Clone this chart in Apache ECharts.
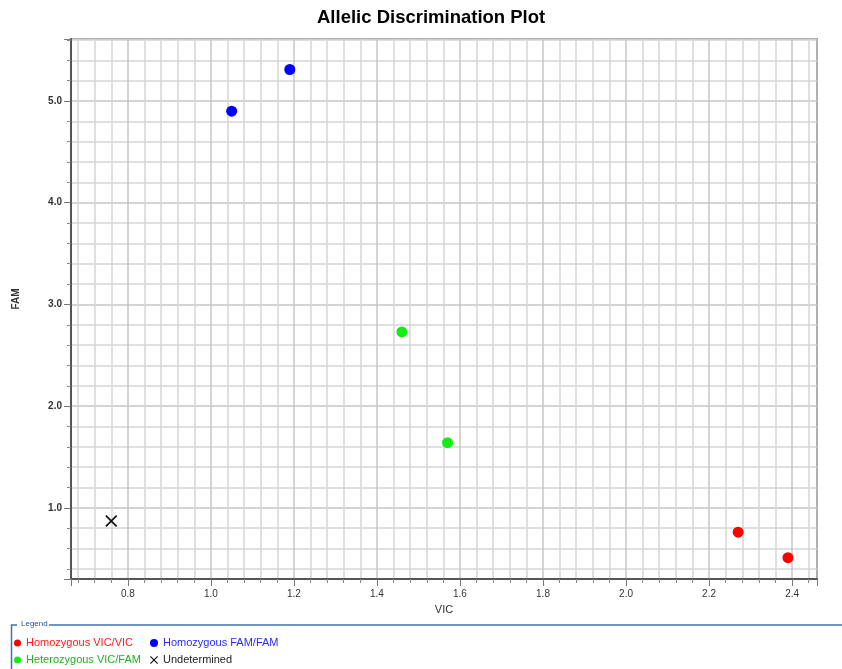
<!DOCTYPE html>
<html>
<head>
<meta charset="utf-8">
<script src="https://cdn.jsdelivr.net/npm/echarts@6/dist/echarts.min.js"></script>
<style>
html,body{margin:0;padding:0;background:#fff;}
#chart{width:842px;height:669px;}
</style>
</head>
<body>
<div id="chart"></div>
<script>
// Data (VIC, FAM)
const seriesNames = ['Homozygous VIC/VIC', 'Homozygous FAM/FAM', 'Heterozygous VIC/FAM', 'Undetermined'];
const homoVIC = [[2.27, 0.76], [2.39, 0.51]];
const homoFAM = [[1.05, 4.90], [1.19, 5.31]];
const hetero = [[1.46, 2.73], [1.57, 1.64]];
const undetermined = [[0.76, 0.87]];
const xRange = [0.663, 2.46];
const yRange = [0.3, 5.61];

const xPath = 'path://M0,1 L1,0 L5,4 L9,0 L10,1 L6,5 L10,9 L9,10 L5,6 L1,10 L0,9 L4,5 Z';
const FONT = 'Liberation Sans, Arial, sans-serif';

const chart = echarts.init(document.getElementById('chart'), null, {renderer: 'canvas'});

const axisCommon = {
  axisLine: {show: true, lineStyle: {color: '#555', width: 2}},
  axisTick: {show: true, inside: false, length: 7, lineStyle: {color: '#777', width: 1}},
  minorTick: {show: true, splitNumber: 5, length: 4, lineStyle: {color: '#888', width: 1}},
  splitLine: {show: true, lineStyle: {color: '#c6c6c6', width: 1.5}},
  minorSplitLine: {show: true, lineStyle: {color: '#d6d6d6', width: 1.5}},
};

chart.setOption({
  animation: false,
  backgroundColor: '#fff',
  title: {
    text: 'Allelic Discrimination Plot',
    left: 317, top: 8, padding: 0,
    textStyle: {fontFamily: FONT, fontSize: 18.5, fontWeight: 'bold', color: '#000'}
  },
  grid: {
    left: 71, right: 25, top: 39, bottom: 90,
    show: true, borderColor: '#444', borderWidth: 1.5, backgroundColor: '#fff',
    containLabel: false
  },
  xAxis: Object.assign({
    type: 'value',
    min: xRange[0], max: xRange[1],
    splitNumber: 9,
    name: 'VIC', nameLocation: 'middle', nameGap: 25,
    nameTextStyle: {fontFamily: FONT, fontSize: 11, color: '#333'},
    axisLabel: {
      margin: 10, fontFamily: FONT, fontSize: 10, color: '#333',
      showMinLabel: false, showMaxLabel: false,
      formatter: v => v.toFixed(1)
    }
  }, axisCommon),
  yAxis: Object.assign({
    type: 'value',
    min: yRange[0], max: yRange[1],
    splitNumber: 5,
    name: 'FAM', nameLocation: 'middle', nameGap: 50,
    nameTextStyle: {fontFamily: FONT, fontSize: 10, fontWeight: 'bold', color: '#333', padding: [0, 0, 0, 20]},
    axisLabel: {
      margin: 9, fontFamily: FONT, fontSize: 10, fontWeight: 'bold', color: '#333',
      showMinLabel: false, showMaxLabel: false,
      formatter: v => v.toFixed(1)
    }
  }, axisCommon),
  legend: [
    {
      orient: 'vertical', left: 14, top: 637, padding: 0,
      itemWidth: 7, itemHeight: 7, itemGap: 5,
      textStyle: {fontFamily: FONT, fontSize: 11, lineHeight: 12},
      data: [
        {name: seriesNames[0], icon: 'circle', textStyle: {color: '#ff1a1a'}},
        {name: seriesNames[2], icon: 'circle', textStyle: {color: '#22b022'}}
      ]
    },
    {
      orient: 'vertical', left: 150, top: 637, padding: 0,
      itemWidth: 8, itemHeight: 8, itemGap: 5,
      textStyle: {fontFamily: FONT, fontSize: 11, lineHeight: 12},
      data: [
        {name: seriesNames[1], icon: 'circle', textStyle: {color: '#2a2aff'}},
        {name: seriesNames[3], icon: xPath, textStyle: {color: '#222'}}
      ]
    }
  ],
  graphic: [
    {type: 'polyline', silent: true, shape: {points: [[11.5, 669], [11.5, 625], [17, 625]]},
     style: {stroke: '#3f6fb0', lineWidth: 1.5, fill: null}},
    {type: 'line', silent: true, shape: {x1: 49, y1: 625, x2: 842, y2: 625},
     style: {stroke: '#3f6fb0', lineWidth: 1.5}},
    {type: 'text', silent: true, left: 21, top: 620,
     style: {text: 'Legend', font: '8px ' + FONT, fill: '#1f4f96'}}
  ],
  series: [
    {name: seriesNames[0], type: 'scatter', data: homoVIC, symbol: 'circle', symbolSize: 11,
     itemStyle: {color: '#ff0000', opacity: 1}},
    {name: seriesNames[1], type: 'scatter', data: homoFAM, symbol: 'circle', symbolSize: 11,
     itemStyle: {color: '#0000ff', opacity: 1}},
    {name: seriesNames[2], type: 'scatter', data: hetero, symbol: 'circle', symbolSize: 11,
     itemStyle: {color: '#11ee11', opacity: 1}},
    {name: seriesNames[3], type: 'scatter', data: undetermined, symbol: xPath, symbolSize: 12,
     itemStyle: {color: '#111', opacity: 1}}
  ]
});
</script>
</body>
</html>
